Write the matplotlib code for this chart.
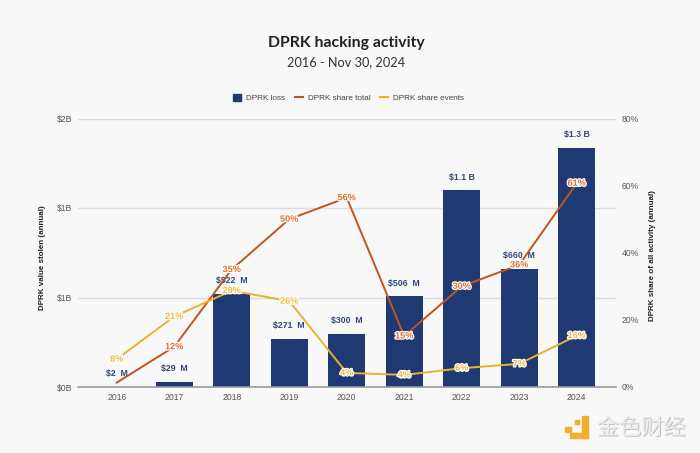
import matplotlib
matplotlib.use('Agg')
import matplotlib.pyplot as plt
import matplotlib.patheffects as pe
from matplotlib.patches import Rectangle
from matplotlib.lines import Line2D

# Data
years = ['2016', '2017', '2018', '2019', '2020', '2021', '2022', '2023', '2024']
loss = [0.002, 0.029, 0.522, 0.268, 0.296, 0.506, 1.1, 0.660, 1.335]
loss_labels = ['$2  M', '$29  M', '$522  M', '$271  M', '$300  M', '$506  M', '$1.1 B', '$660  M', '$1.3 B']
share_total = [1.3, 12, 35, 50, 56.4, 15.2, 30, 36.4, 60.7]
total_labels = ['', '12%', '35%', '50%', '56%', '15%', '30%', '36%', '61%']
share_events = [8.3, 21, 28.7, 25.6, 4.2, 3.6, 5.6, 6.9, 15.3]
events_labels = ['8%', '21%', '29%', '26%', '4%', '4%', '6%', '7%', '16%']
left_ticks = [0, 0.5, 1.0, 1.5]
left_tick_labels = ['$0B', '$1B', '$1B', '$2B']
right_ticks = [0, 20, 40, 60, 80]
right_tick_labels = ['0%', '20%', '40%', '60%', '80%']

BG = '#f8f8f8'
NAVY = '#1f3a72'
RED = '#c4531f'
RED_TXT = '#e0702f'
YELLOW = '#edb02f'
YELLOW_TXT = '#f0bb3c'
GREY = '#555555'
GOLD = '#f3ae2b'

plt.rcParams['font.family'] = ['Liberation Sans', 'DejaVu Sans']

W, H = 700, 453
fig = plt.figure(figsize=(W / 100, H / 100), dpi=100, facecolor=BG)

# Axes box in pixels: gridlines run 78-616, $0B at 387, top at 118.5
ax = fig.add_axes([78 / W, 1 - 387 / H, 538 / W, 268.5 / H], facecolor='none')
x = list(range(len(years)))

ax.bar(x, loss, width=0.65, color=NAVY, zorder=3)
ax.set_xlim(-0.673, 8.683)
ax.set_ylim(0, 1.5)
ax.set_xticks(x, years)
ax.set_yticks(left_ticks, left_tick_labels)
ax.grid(axis='y', color='#dcdcdc', lw=1, zorder=0)
ax.set_axisbelow(True)
ax.tick_params(length=0, labelsize=6.2, labelcolor=GREY, pad=4)
for s in ['top', 'left', 'right']:
    ax.spines[s].set_visible(False)
ax.spines['bottom'].set_color('#9a9a9a')
ax.spines['bottom'].set_linewidth(1.2)
ax.spines['bottom'].set_zorder(4)

for i, lab in enumerate(loss_labels):
    ax.annotate(lab, (i, loss[i]), xytext=(0, 9.4), textcoords='offset points',
                ha='center', va='center', fontsize=6.3, fontweight='bold', color='#33497c', zorder=6)

ax2 = ax.twinx()
ax2.set_ylim(0, 80)
ax2.set_yticks(right_ticks, right_tick_labels)
ax2.tick_params(length=0, labelsize=6.2, labelcolor=GREY, pad=4)
for s in ax2.spines.values():
    s.set_visible(False)

ax2.plot(x, share_total, color=RED, lw=1.4, zorder=4)
ax2.plot(x, share_events, color=YELLOW, lw=1.4, zorder=4)

halo = [pe.withStroke(linewidth=1.8, foreground='white')]
for i in x:
    if total_labels[i]:
        ax2.text(i, share_total[i], total_labels[i], ha='center', va='center', fontsize=6.6,
                 fontweight='bold', color=RED_TXT, path_effects=halo, zorder=7)
    ax2.text(i, share_events[i], events_labels[i], ha='center', va='center', fontsize=6.6,
             fontweight='bold', color=YELLOW_TXT, path_effects=halo, zorder=7)

# Titles
fig.text(346 / W, 1 - 43 / H, 'DPRK hacking activity', ha='center', va='center',
         fontsize=11.3, fontweight='bold', family=['Lato', 'DejaVu Sans'], color='#222222')
fig.text(346 / W, 1 - 62 / H, '2016 - Nov 30, 2024', ha='center', va='center',
         fontsize=9.2, family=['Lato', 'DejaVu Sans'], color='#333333')

# Axis titles
fig.text(43 / W, 1 - 258 / H, 'DPRK value stolen (annual)', rotation=90, ha='center', va='center',
         fontsize=5.8, fontweight='bold', color='#222222')
fig.text(652 / W, 1 - 256 / H, 'DPRK share of all activity (annual)', rotation=90, ha='center', va='center',
         fontsize=5.8, fontweight='bold', color='#222222')

# Legend
handles = [
    Rectangle((0, 0), 1, 1, color=NAVY),
    Line2D([0], [0], color=RED, lw=1.5),
    Line2D([0], [0], color=YELLOW, lw=1.5),
]
fig.legend(handles, ['DPRK loss', 'DPRK share total', 'DPRK share events'], ncols=3,
           loc='center', bbox_to_anchor=(348.5 / W, 1 - 98 / H), frameon=False, fontsize=5.9,
           labelcolor='#444444', handlelength=1.0, handleheight=1.0, handletextpad=0.6, columnspacing=1.2)


def px_rect(x0, y0, x1, y1):
    # Rectangle from pixel corners, y measured from the top
    fig.add_artist(Rectangle((x0 / W, 1 - y1 / H), (x1 - x0) / W, (y1 - y0) / H,
                             transform=fig.transFigure, color=GOLD))


# Watermark, bottom right
px_rect(570, 433, 588, 438)
px_rect(582, 416, 588, 438)
px_rect(565, 427, 571, 432)
px_rect(575, 420, 579, 424)
fig.text(597 / W, 1 - 428 / H, '金色财经', ha='left', va='center', fontsize=16,
         family=['Noto Sans CJK SC', 'DejaVu Sans'], color='#ececec',
         path_effects=[pe.withSimplePatchShadow(offset=(0.6, -0.6), shadow_rgbFace='#aaaaaa', alpha=0.8)])

fig.savefig('out.png', dpi=100, facecolor=fig.get_facecolor())
